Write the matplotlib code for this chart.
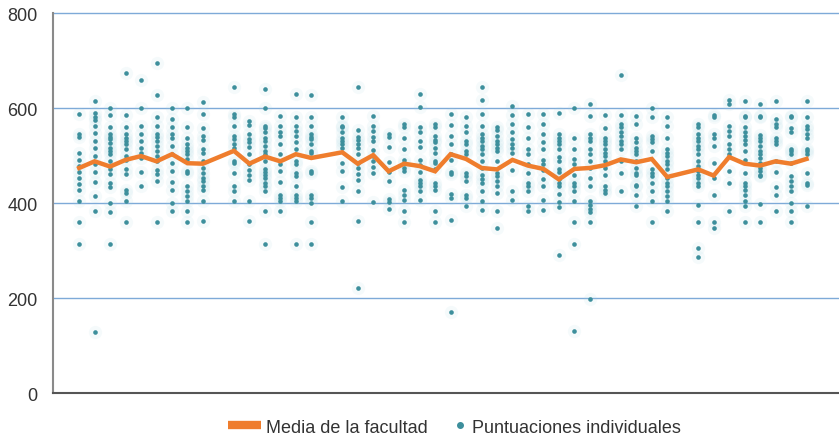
import matplotlib
matplotlib.use("Agg")
import matplotlib.pyplot as plt
from matplotlib.lines import Line2D

plt.rcParams["font.family"] = ["Liberation Sans", "DejaVu Sans"]

# ─── Data ─────────────────────────────────────────────────────────────────────

# facultad positions (gaps at 9, 16, 39 have no data)
facultades = [0, 1, 2, 3, 4, 5, 6, 7, 8, 10, 11, 12, 13, 14, 15,
              17, 18, 19, 20, 21, 22, 23, 24, 25, 26, 27, 28, 29, 30,
              31, 32, 33, 34, 35, 36, 37, 38, 40, 41, 42, 43, 44, 45, 46, 47]

media = [474, 488, 477, 491, 499, 488, 503, 484, 483, 510, 483, 498, 488, 503, 495,
         507, 483, 501, 467, 483, 478, 467, 503, 493, 474, 471, 491, 479, 472,
         450, 472, 474, 480, 492, 486, 493, 455, 471, 458, 497, 483, 479, 488, 483, 493]

puntuaciones = [
    [588, 545, 540, 505, 490, 478, 465, 452, 440, 428, 405, 360, 313],
    [615, 590, 582, 575, 563, 548, 530, 515, 500, 482, 465, 444, 416, 383, 128],
    [600, 585, 561, 545, 540, 535, 526, 517, 510, 503, 489, 471, 462, 443, 434, 400, 382, 313],
    [674, 585, 561, 545, 538, 531, 524, 514, 499, 490, 471, 462, 428, 422, 405, 361],
    [660, 600, 562, 545, 530, 515, 505, 495, 465, 437],
    [695, 628, 582, 562, 545, 540, 531, 521, 510, 500, 489, 470, 462, 447, 361],
    [600, 577, 560, 545, 538, 521, 503, 485, 467, 444, 427, 400, 384],
    [600, 561, 538, 524, 517, 510, 503, 492, 467, 464, 436, 425, 414, 404, 384, 361],
    [612, 587, 558, 542, 533, 514, 506, 489, 474, 464, 453, 446, 436, 428, 405, 363],
    [645, 588, 582, 563, 542, 535, 524, 517, 489, 485, 464, 436, 425, 405],
    [572, 565, 545, 535, 528, 518, 503, 482, 470, 460, 449, 405, 363],
    [641, 600, 563, 558, 549, 538, 530, 521, 510, 503, 489, 471, 466, 460, 453, 443, 436, 426, 384, 313],
    [584, 563, 549, 542, 524, 503, 482, 467, 444, 418, 411, 404, 384],
    [629, 581, 563, 552, 542, 528, 514, 488, 482, 464, 457, 436, 418, 411, 404, 313],
    [627, 581, 563, 545, 540, 535, 524, 510, 506, 467, 464, 418, 411, 400, 361, 313],
    [581, 563, 560, 549, 538, 531, 524, 517, 485, 467, 433, 405],
    [645, 554, 540, 532, 524, 517, 503, 485, 474, 462, 448, 426, 363, 222],
    [583, 562, 552, 540, 530, 512, 500, 489, 476, 464, 403],
    [546, 540, 518, 486, 466, 446, 409, 403, 387],
    [567, 561, 538, 514, 490, 485, 474, 467, 428, 418, 407, 384, 360],
    [630, 603, 560, 549, 530, 518, 490, 480, 466, 449, 443, 436, 425, 407],
    [567, 560, 542, 533, 528, 517, 506, 489, 484, 471, 443, 436, 428, 384, 361],
    [587, 565, 541, 525, 503, 490, 465, 462, 419, 411, 364, 170],
    [581, 563, 549, 530, 524, 510, 503, 464, 457, 446, 418, 411, 393],
    [645, 617, 587, 563, 545, 538, 531, 520, 514, 503, 489, 474, 460, 450, 443, 426, 405, 386],
    [561, 554, 542, 531, 524, 517, 510, 489, 464, 457, 446, 436, 421, 384, 347],
    [605, 586, 566, 550, 535, 525, 517, 506, 469, 426, 407],
    [587, 561, 538, 514, 503, 482, 464, 443, 436, 425, 393, 384],
    [588, 566, 545, 528, 514, 490, 482, 470, 450, 436, 407, 386],
    [590, 546, 538, 531, 524, 514, 497, 489, 471, 465, 451, 443, 436, 419, 403, 392, 290],
    [600, 538, 514, 492, 483, 460, 443, 436, 425, 405, 361, 313, 130],
    [609, 584, 545, 538, 531, 514, 503, 489, 474, 453, 436, 404, 397, 388, 381, 361, 198],
    [585, 558, 538, 531, 524, 514, 506, 499, 489, 474, 460, 436, 428, 421],
    [670, 585, 567, 560, 549, 542, 531, 524, 514, 489, 464, 425],
    [584, 567, 538, 528, 517, 510, 503, 489, 474, 464, 460, 439, 436, 418, 393],
    [601, 581, 542, 535, 528, 510, 471, 464, 457, 443, 425, 405, 361],
    [581, 563, 538, 514, 506, 499, 489, 482, 471, 453, 443, 436, 425, 414, 404, 384],
    [567, 561, 545, 538, 530, 521, 514, 503, 489, 478, 467, 460, 453, 443, 436, 397, 361, 306, 287],
    [585, 581, 545, 538, 521, 485, 453, 418, 361, 347],
    [616, 609, 563, 552, 542, 524, 514, 503, 467, 443, 384],
    [614, 584, 581, 560, 549, 542, 533, 524, 510, 490, 464, 443, 436, 428, 418, 405, 393, 361],
    [609, 584, 581, 544, 538, 530, 521, 510, 503, 496, 485, 474, 467, 460, 457, 398, 361],
    [614, 577, 567, 561, 538, 530, 524, 489, 466, 433, 418, 384],
    [584, 581, 558, 549, 514, 510, 503, 485, 457, 446, 436, 425, 400, 384, 361],
    [614, 581, 563, 556, 545, 538, 514, 509, 503, 464, 443, 439, 393],
]

y_ticks = [0, 200, 400, 600, 800]

# ─── Plot ─────────────────────────────────────────────────────────────────────

naranja = "#ef7d2d"
verde   = "#3d8f9c"
texto   = "#333333"
fs      = 13

fig = plt.figure(figsize=(8.39, 4.39), dpi=100)
ax = fig.add_axes([0.063, 0.102, 0.937, 0.866])

xs, ys = [], []
for x, vals in zip(facultades, puntuaciones):
    xs += [x] * len(vals)
    ys += vals

# soft halo + dot
ax.scatter(xs, ys, s=90, color="#9fd3e0", alpha=0.10, linewidths=0, zorder=2)
ax.scatter(xs, ys, s=11, color=verde, linewidths=0, zorder=3)

ax.plot(facultades, media, color=naranja, lw=3.2, solid_joinstyle="miter", zorder=4)

ax.set_xlim(-1.7, 49.1)
ax.set_ylim(0, 800)
ax.set_yticks(y_ticks)
ax.set_xticks([])
ax.tick_params(axis="y", length=0, pad=11, labelsize=fs, labelcolor=texto)

for v in y_ticks[1:]:
    ax.axhline(v, color="#7eaad8", lw=1.0, zorder=1, clip_on=False)

for s in ["top", "right"]:
    ax.spines[s].set_visible(False)
ax.spines["left"].set_color("#8a8a8a")
ax.spines["left"].set_linewidth(1.5)
ax.spines["bottom"].set_color("#555555")
ax.spines["bottom"].set_linewidth(1.5)

# legend — two pieces so each handle gets its own width
leg1 = fig.legend([Line2D([], [], color=naranja, lw=6, solid_capstyle="butt")],
                  ["Media de la facultad"],
                  loc="center left", bbox_to_anchor=(0.2718, 0.025),
                  frameon=False, fontsize=fs, labelcolor=texto,
                  handlelength=1.85, handletextpad=0.25,
                  borderpad=0, borderaxespad=0)
leg2 = fig.legend([Line2D([], [], color=verde, marker="o", markersize=4, lw=0)],
                  ["Puntuaciones individuales"],
                  loc="center left", bbox_to_anchor=(0.5423, 0.025),
                  frameon=False, fontsize=fs, labelcolor=texto,
                  handlelength=0.6, handletextpad=0.35,
                  borderpad=0, borderaxespad=0)

plt.savefig("out.png", dpi=100)
